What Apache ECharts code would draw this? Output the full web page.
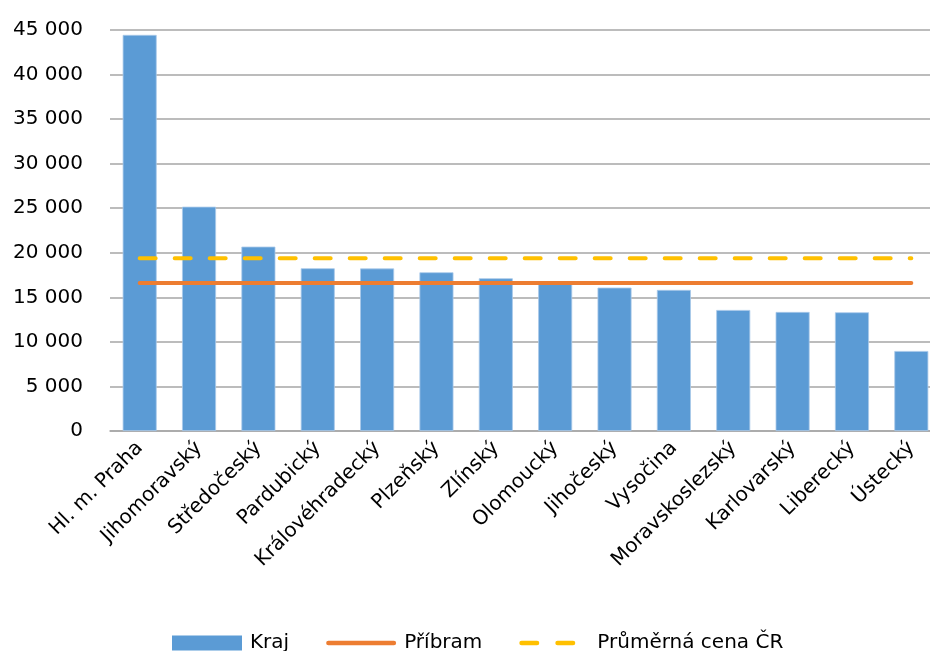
<!DOCTYPE html>
<html>
<head>
<meta charset="utf-8">
<script src="https://cdn.jsdelivr.net/npm/echarts@6/dist/echarts.min.js"></script>
<style>
  html, body { margin: 0; padding: 0; background: #fff; overflow: hidden; }
  /* the plot runs a little past the right edge of the window */
  #chart { width: 941px; height: 651px; }
</style>
</head>
<body>
<div id="chart"></div>
<script>
// Průměrná cena podle krajů (Kč)
const categories = ['Hl. m. Praha', 'Jihomoravský', 'Středočeský', 'Pardubický', 'Královéhradecký',
  'Plzeňský', 'Zlínský', 'Olomoucký', 'Jihočeský', 'Vysočina', 'Moravskoslezský',
  'Karlovarský', 'Liberecký', 'Ústecký'];
const kraj = [44450, 25170, 20690, 18260, 18240, 17810, 17140, 16550, 16090, 15830, 13580, 13360, 13320, 8980];
const pribram = [16610, 16610, 16610, 16610, 16610, 16610, 16610, 16610, 16610, 16610, 16610, 16610, 16610, 16610];
const prumerCR = [19380, 19380, 19380, 19380, 19380, 19380, 19380, 19380, 19380, 19380, 19380, 19380, 19380, 19380];

const FONT = 'DejaVu Sans';

// Legend glyphs in a 70×15 box (the leading moveTo points fix the box size)
const BOX = 'M0,0 M70,15 ';
const solidIcon = 'path://' + BOX +
  'M2.25,5.25 H67.75 A2.25,2.25 0 0 1 67.75,9.75 H2.25 A2.25,2.25 0 0 1 2.25,5.25 Z';
const dashIcon = 'path://' + BOX +
  'M2.25,5.25 H17.75 A2.25,2.25 0 0 1 17.75,9.75 H2.25 A2.25,2.25 0 0 1 2.25,5.25 Z ' +
  'M38.25,5.25 H53.75 A2.25,2.25 0 0 1 53.75,9.75 H38.25 A2.25,2.25 0 0 1 38.25,5.25 Z';

const chart = echarts.init(document.getElementById('chart'));

chart.setOption({
  animation: false,
  textStyle: { fontFamily: FONT },
  grid: { left: 110, right: 0, top: 30, bottom: 220, containLabel: false },
  legend: {
    left: 172,
    top: 633,
    padding: 0,
    itemWidth: 70,
    itemHeight: 15,
    itemGap: 37,
    textStyle: { fontFamily: FONT, fontSize: 20, color: '#000', padding: [0, 0, 0, 3] },
    data: [
      { name: 'Kraj', icon: 'rect', itemStyle: { borderWidth: 0 } },
      { name: 'Příbram', icon: solidIcon },
      { name: 'Průměrná cena ČR', icon: dashIcon }
    ]
  },
  xAxis: {
    type: 'category',
    data: categories,
    axisLine: { lineStyle: { color: '#a6a6a6', width: 1.5 } },
    axisTick: { show: false },
    axisLabel: {
      interval: 0,
      rotate: 45,
      margin: 14,
      fontFamily: FONT,
      fontSize: 20,
      color: '#000'
    }
  },
  yAxis: {
    type: 'value',
    min: 0,
    max: 45000,
    interval: 5000,
    axisLine: { show: false },
    axisTick: { show: false },
    splitLine: { lineStyle: { color: '#a6a6a6', width: 1.5 } },
    axisLabel: {
      margin: 27,
      fontFamily: FONT,
      fontSize: 20,
      color: '#000',
      formatter: v => String(v).replace(/\B(?=(\d{3})+(?!\d))/g, ' ')
    }
  },
  series: [
    {
      name: 'Kraj',
      type: 'bar',
      data: kraj,
      barWidth: 34,
      itemStyle: { color: '#5B9BD5', borderColor: '#a9c9ea', borderWidth: 0.8 }
    },
    {
      name: 'Příbram',
      type: 'line',
      data: pribram,
      symbol: 'none',
      z: 3,
      itemStyle: { color: '#ED7D31' },
      lineStyle: { color: '#ED7D31', width: 4, cap: 'round' }
    },
    {
      name: 'Průměrná cena ČR',
      type: 'line',
      data: prumerCR,
      symbol: 'none',
      z: 3,
      itemStyle: { color: '#FFC000' },
      lineStyle: { color: '#FFC000', width: 4, type: [16, 19], cap: 'round' }
    }
  ]
});
</script>
</body>
</html>
